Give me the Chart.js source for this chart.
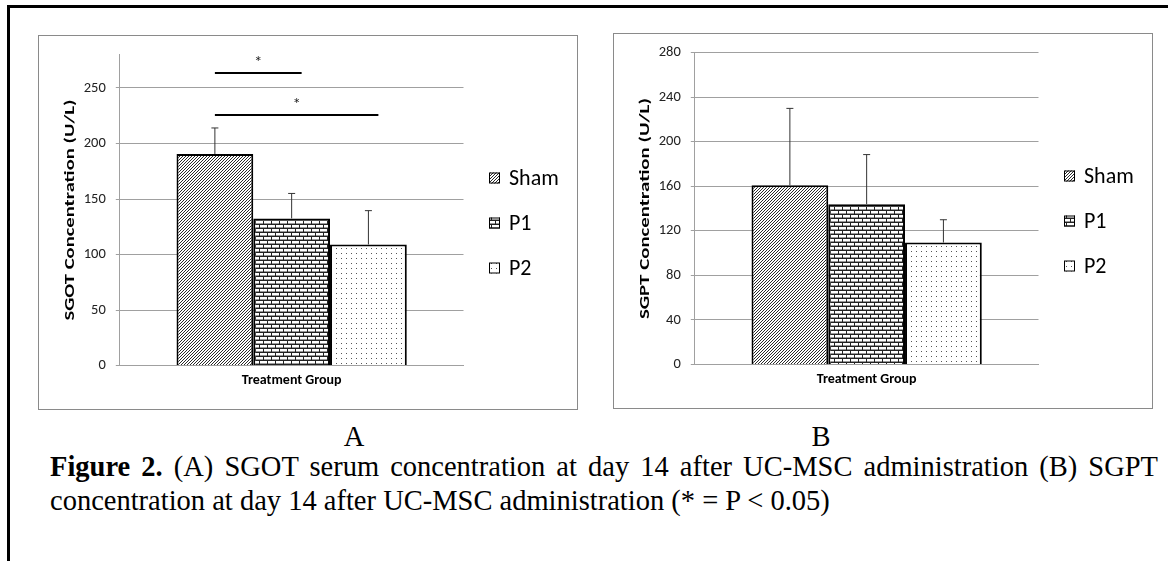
<!DOCTYPE html>
<html>
<head>
<meta charset="utf-8">
<script src="https://cdn.jsdelivr.net/npm/chart.js@4.4.0/dist/chart.umd.min.js"></script>
<style>
  body { margin: 0; background: #fff; width: 1168px; height: 561px; position: relative; overflow: hidden; }
  .frameTop { position: absolute; left: 7px; top: 5px; width: 1161px; height: 2.5px; background: #000; }
  .frameLeft { position: absolute; left: 7px; top: 5px; width: 3px; height: 556px; background: #000; }
  .box { position: absolute; border: 1.5px solid #8a8a8a; box-sizing: border-box; }
  .box div { position: relative; width: 100%; height: 100%; }
  .serif { font-family: "Liberation Serif", "Times New Roman", serif; color: #000; }
  .lbl { position: absolute; font-size: 28.5px; line-height: 32px; transform: translateX(-50%); white-space: nowrap; }
  .cap { position: absolute; left: 50px; width: 1108px; font-size: 28.5px; line-height: 33.5px; }
  .just { text-align: justify; text-align-last: justify; }
</style>
</head>
<body>
<div class="frameTop"></div>
<div class="frameLeft"></div>

<div class="box" style="left:38px; top:35px; width:540px; height:375px;"><div><canvas id="chartA"></canvas></div></div>
<div class="box" style="left:612.5px; top:32.5px; width:540px; height:376px;"><div><canvas id="chartB"></canvas></div></div>

<div class="lbl serif" style="left:354px; top:421px;">A</div>
<div class="lbl serif" style="left:821px; top:421px;">B</div>
<div class="cap serif just" style="top:450px;"><b>Figure 2.</b> (A) SGOT serum concentration at day 14 after UC-MSC administration (B) SGPT</div>
<div class="cap serif" style="top:484px;">concentration at day 14 after UC-MSC administration (* = P &lt; 0.05)</div>

<script>
// groups shown as bars / legend entries
const groups = ['Sham', 'P1', 'P2'];

// panel A: SGOT (U/L)
const sgotMeans = [190.5, 132.5, 109];
const sgotErrors = [23.5, 22.5, 30.5];
const sgotTicks = [0, 50, 100, 150, 200, 250];
const sgotPairs = [[0, 1], [0, 2]];
const sgotPairHeights = [263.5, 226];

// panel B: SGPT (U/L)
const sgptMeans = [161, 144, 109.5];
const sgptErrors = [69, 44.5, 20.5];
const sgptTicks = [0, 40, 80, 120, 160, 200, 240, 280];

const FONT = 'Carlito, Lato, sans-serif';
const GRID = '#a0a0a0';

function makePattern(kind) {
    const c = document.createElement('canvas');
    const g = c.getContext('2d');
    if (kind === 'diag') {
        c.width = 3; c.height = 3;
        g.fillStyle = '#fff'; g.fillRect(0, 0, 3, 3);
        g.fillStyle = '#2a2a2a';
        for (let i = 0; i < 3; i++) g.fillRect(i, 2 - i, 1, 1);
    } else if (kind === 'brick') {
        c.width = 8; c.height = 8;
        g.fillStyle = '#fff'; g.fillRect(0, 0, 8, 8);
        g.fillStyle = '#222';
        g.fillRect(0, 0, 8, 1); g.fillRect(0, 4, 8, 1);
        g.fillRect(0, 1, 1, 3); g.fillRect(4, 5, 1, 3);
        g.fillStyle = '#9a9a9a';
        g.fillRect(1, 3, 7, 1); g.fillRect(0, 7, 4, 1); g.fillRect(5, 7, 3, 1);
    } else {
        c.width = 5; c.height = 5;
        g.fillStyle = '#fff'; g.fillRect(0, 0, 5, 5);
        g.fillStyle = '#555';
        g.fillRect(2, 2, 1, 1);
    }
    return g.createPattern(c, 'repeat');
}

const patterns = [makePattern('diag'), makePattern('brick'), makePattern('dots')];

const errorBars = {
    id: 'errorBars',
    afterDatasetsDraw(chart, args, opts) {
        const {ctx} = chart;
        const y = chart.scales.y;
        ctx.save();
        ctx.strokeStyle = '#333';
        ctx.lineWidth = 1;
        chart.data.datasets.forEach((ds, i) => {
            const bar = chart.getDatasetMeta(i).data[0];
            const top = y.getPixelForValue(ds.data[0] + opts.errors[i]);
            ctx.beginPath();
            ctx.moveTo(bar.x, bar.y);
            ctx.lineTo(bar.x, top);
            ctx.moveTo(bar.x - 3.5, top);
            ctx.lineTo(bar.x + 3.5, top);
            ctx.stroke();
        });
        ctx.restore();
    }
};

const sigBars = {
    id: 'sigBars',
    afterDatasetsDraw(chart, args, opts) {
        if (!opts.pairs) return;
        const {ctx} = chart;
        const y = chart.scales.y;
        ctx.save();
        opts.pairs.forEach((p, k) => {
            const a = chart.getDatasetMeta(p[0]).data[0];
            const b = chart.getDatasetMeta(p[1]).data[0];
            const x1 = a.x;
            const x2 = b.x + b.width * 0.13;
            const yy = Math.round(y.getPixelForValue(opts.heights[k]));
            ctx.strokeStyle = '#000';
            ctx.lineWidth = 1.8;
            ctx.beginPath();
            ctx.moveTo(x1, yy);
            ctx.lineTo(x2, yy);
            ctx.stroke();
            ctx.fillStyle = '#222';
            ctx.font = '17px ' + FONT;
            ctx.textAlign = 'center';
            ctx.textBaseline = 'middle';
            ctx.fillText('*', (x1 + x2) / 2, yy - 10);
        });
        ctx.restore();
    }
};

const yTitle = {
    id: 'yTitle',
    afterDraw(chart, args, opts) {
        const {ctx, chartArea} = chart;
        ctx.save();
        ctx.font = 'bold 14px ' + FONT;
        const w = ctx.measureText(opts.text).width;
        ctx.translate(opts.x, (chartArea.top + chartArea.bottom) / 2);
        ctx.rotate(-Math.PI / 2);
        ctx.scale(opts.length / w, 1);
        ctx.textAlign = 'center';
        ctx.textBaseline = 'middle';
        ctx.fillStyle = '#000';
        ctx.fillText(opts.text, 0, 0);
        ctx.restore();
    }
};

const sideLegend = {
    id: 'sideLegend',
    afterDraw(chart) {
        const {ctx, chartArea} = chart;
        ctx.save();
        ctx.font = '22px ' + FONT;
        ctx.textBaseline = 'middle';
        ctx.textAlign = 'left';
        chart.data.datasets.forEach((ds, i) => {
            const cy = 142 + i * 45;
            const bx = chartArea.right + 25.5;
            ctx.fillStyle = ds.backgroundColor;
            ctx.fillRect(bx, cy - 5.5, 11, 11);
            ctx.strokeStyle = '#000';
            ctx.lineWidth = 1;
            ctx.strokeRect(bx + 0.5, cy - 5, 10, 10);
            ctx.fillStyle = '#000';
            ctx.fillText(ds.label, bx + 20, cy + 1);
        });
        ctx.restore();
    }
};

function makeChart(id, means, errors, ticks, title, pairs, pairHeights) {
    const step = ticks[1] - ticks[0];
    return new Chart(document.getElementById(id), {
        type: 'bar',
        data: {
            labels: [''],
            datasets: groups.map((g, i) => ({
                label: g,
                data: [means[i]],
                backgroundColor: patterns[i],
                borderColor: '#000',
                borderWidth: 2,
                categoryPercentage: 0.67,
                barPercentage: 1.0
            }))
        },
        options: {
            animation: false,
            responsive: true,
            maintainAspectRatio: false,
            devicePixelRatio: 1,
            layout: { padding: { top: 18.4, right: 113.5, left: 0, bottom: 0 } },
            plugins: {
                legend: { display: false },
                tooltip: { enabled: false },
                errorBars: { errors: errors },
                sigBars: { pairs: pairs, heights: pairHeights },
                yTitle: { text: title, x: 31.4, length: 221 }
            },
            scales: {
                x: {
                    grid: { display: false },
                    border: { display: true, color: GRID },
                    ticks: { display: false },
                    title: {
                        display: true,
                        text: 'Treatment Group',
                        color: '#000',
                        font: { family: FONT, size: 14, weight: 'bold' },
                        padding: { top: 0, bottom: 20 }
                    },
                    afterFit: s => { s.height = 43.5; }
                },
                y: {
                    min: 0,
                    max: 280,
                    ticks: {
                        stepSize: step,
                        color: '#222',
                        padding: 10,
                        font: { family: FONT, size: 14.5 }
                    },
                    afterBuildTicks: s => {
                        s.ticks = ticks.map(v => ({ value: v }));
                    },
                    grid: { color: GRID, lineWidth: 1, tickLength: 4 },
                    border: { color: GRID },
                    afterFit: s => { s.width = 80.8; }
                }
            }
        },
        plugins: [errorBars, sigBars, yTitle, sideLegend]
    });
}

makeChart('chartA', sgotMeans, sgotErrors, sgotTicks, 'SGOT Concentration (U/L)', sgotPairs, sgotPairHeights);
makeChart('chartB', sgptMeans, sgptErrors, sgptTicks, 'SGPT Concentration (U/L)', null, null);
</script>
</body>
</html>
